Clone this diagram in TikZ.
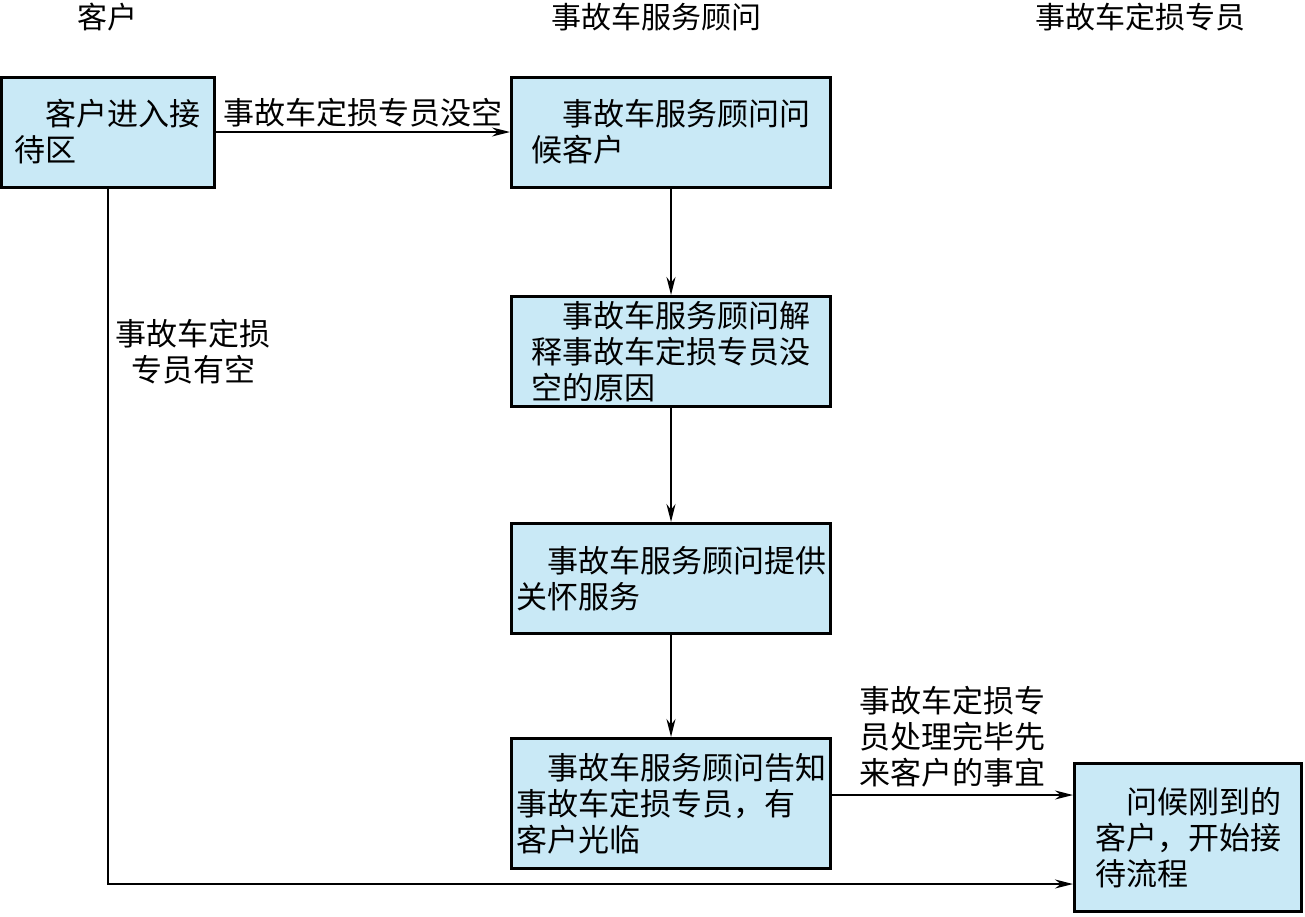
\documentclass[tikz,border=0pt]{standalone}
\usepackage{fontspec}
\setmainfont{Noto Sans CJK SC}
\usetikzlibrary{arrows.meta}
\definecolor{boxblue}{RGB}{201,233,246}
\begin{document}
\begin{tikzpicture}
      [%%%%%%%%%%%%%%%%%%%%%%%%%%%%%%
          box/.style={rectangle,draw=black,line width=3pt,fill=boxblue,
                      align=left,inner sep=0pt,font=\fontsize{31}{36}\selectfont},
          head/.style={font=\fontsize{30}{36}\selectfont},
          lbl/.style={font=\fontsize{31}{36}\selectfont},
          >={Stealth[length=18pt,width=9pt]},
          x=1pt,y=-1pt
      ]%%%%%%%%%%%%%%%%%%%%%%%%%%%%%%

  \useasboundingbox (0,0) rectangle (1305,916);

  % column heads
  \node[head] (kehu) at (107,17) {客户};
  \node[head] (guwen) at (656,17) {事故车服务顾问};
  \node[head] (zhuanyuan) at (1140,17) {事故车定损专员};

  % steps
  \node[box,minimum width=213pt,minimum height=110pt] (jiedai) at (107.5,132)
      {\hspace*{1em}客户进入接\\待区};
  \node[box,minimum width=319pt,minimum height=110pt] (wenhou) at (671,132)
      {\hspace*{1em}事故车服务顾问问\\候客户};
  \node[box,minimum width=319pt,minimum height=110pt] (jieshi) at (671,351.5)
      {\hspace*{1em}事故车服务顾问解\\释事故车定损专员没\\空的原因};
  \node[box,minimum width=319pt,minimum height=110pt] (guanhuai) at (671,578.5)
      {\hspace*{1em}事故车服务顾问提供\\关怀服务};
  \node[box,minimum width=319pt,minimum height=130pt] (gaozhi) at (671,803.5)
      {\hspace*{1em}事故车服务顾问告知\\事故车定损专员，有\\客户光临};
  \node[box,minimum width=227pt,minimum height=148pt] (kaishi) at (1188,837.5)
      {\hspace*{1em}问候刚到的\\客户，开始接\\待流程};

  \coordinate (dao) at (0,884);
  \coordinate (gz) at (0,795);

  \draw[->,line width=2pt] (jiedai) -- node[lbl,above=1pt] {事故车定损专员没空} (wenhou);
  \draw[->,line width=2pt] (wenhou) -- (jieshi);
  \draw[->,line width=2pt] (jieshi) -- (guanhuai);
  \draw[->,line width=2pt] (guanhuai) -- (gaozhi);
  \draw[->,line width=2pt] (gaozhi.east |- gz) -- node[lbl,above=4pt,align=left]
      {事故车定损专\\员处理完毕先\\来客户的事宜} (kaishi.west |- gz);
  \draw[->,line width=2pt] (jiedai) |- (kaishi.west |- dao);

  \node[lbl,align=center] (youkong) at (193,352) {事故车定损\\专员有空};

  \end{tikzpicture}
\end{document}
